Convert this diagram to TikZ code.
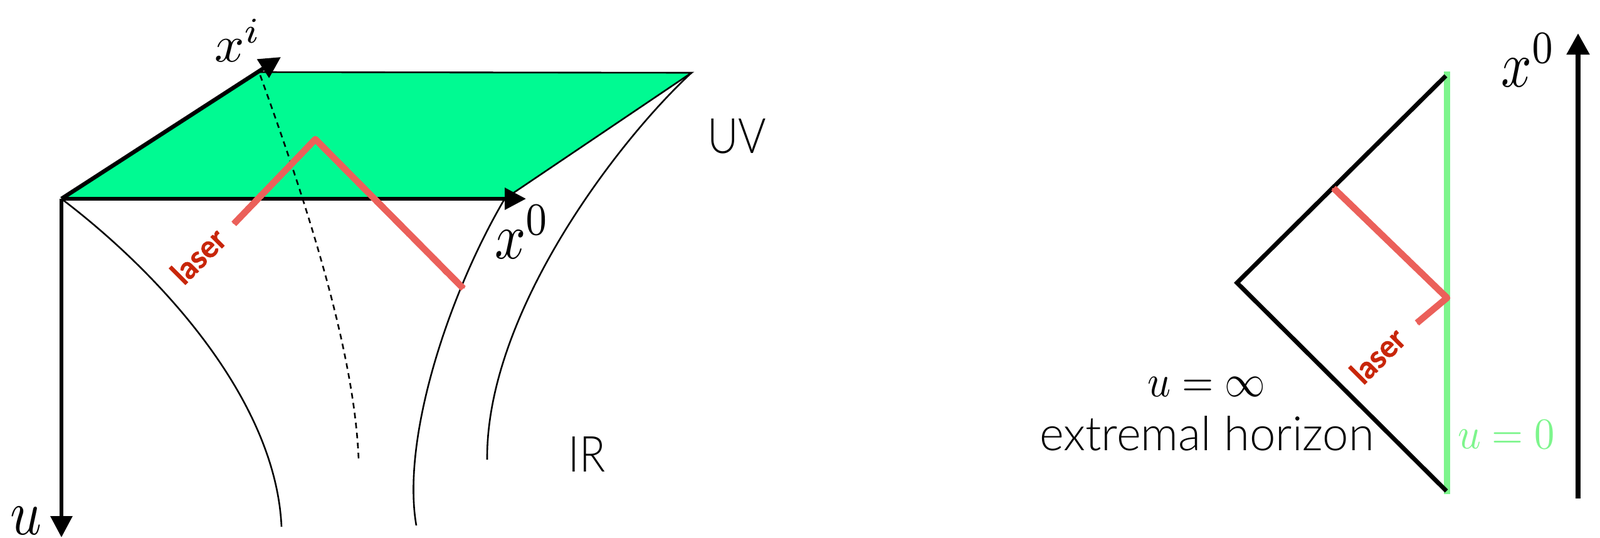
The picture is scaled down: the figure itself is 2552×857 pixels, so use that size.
\documentclass[tikz,border=0pt]{standalone}
\usepackage{fontspec}
\usepackage{graphicx}
\usetikzlibrary{arrows.meta,decorations.pathmorphing}
\newfontfamily\lightsans{Lato Light}
\newfontfamily\boldsans{Lato}[BoldFeatures={FakeBold=1.2}]
\definecolor{plane}{RGB}{0,250,146}
\definecolor{bdry}{RGB}{125,245,140}
\definecolor{beam}{RGB}{235,96,90}
\definecolor{beamtext}{RGB}{200,38,10}
\newlength{\pu}\setlength{\pu}{0.01cm}
\begin{document}
\begin{tikzpicture}[x=0.01cm,y=-0.01cm,
  axisarrow/.style={line width=6.5\pu,-{Triangle[length=9.67pt,width=9.67pt]}},
  thinline/.style={line width=2.6\pu},
  dashline/.style={line width=2.6\pu,dash pattern=on 9\pu off 7\pu},
  coneline/.style={line width=7\pu},
  beamline/.style={draw=beam,line width=10.5\pu,line join=round},
  beamrough/.style={draw=beam,line width=5\pu,line join=round,
    decorate,decoration={random steps,segment length=2.5\pu,amplitude=3\pu}},
  lbl/.style={inner sep=0pt,outer sep=0pt}]
\useasboundingbox (0,0) rectangle (2552,857);

% ---------- left diagram ----------
\coordinate (O) at (98,317);
\coordinate (P1) at (413,115);
\coordinate (P2) at (1103,116);
\coordinate (P3) at (805,317);
\coordinate (XiTip) at (448,91);
\coordinate (X0Tip) at (839,317);
\coordinate (UTip) at (98,857);

\fill[plane] (O) -- (P1) -- (P2) -- (P3) -- cycle;
\draw[thinline] (P1) -- (P2) -- (P3);

% curves
\coordinate (C1e) at (449,840);
\draw[thinline] (O) .. controls (260,440) and (440,640) .. (C1e);
\coordinate (C2s) at (805,317);
\coordinate (C2e) at (664,838);
\draw[thinline] (C2s) .. controls (715,470) and (640,700) .. (C2e);
\coordinate (C3e) at (777,733);
\draw[thinline] (P2) .. controls (985,225) and (775,500) .. (C3e);
\coordinate (Ds) at (415,120);
\coordinate (De) at (572,733);
\draw[dashline] (Ds) .. controls (480,300) and (565,550) .. (De);

% axes
\draw[axisarrow] (O) -- (XiTip);
\draw[axisarrow] (O) -- (X0Tip);
\draw[axisarrow] (O) -- (UTip);

% laser
\coordinate (L1) at (373,357);
\coordinate (L2) at (503,222);
\coordinate (L3) at (739,460);
\draw[beamline] (L1) -- (L2) -- (L3);
\draw[beamrough] (L1) -- (L2) -- (L3);

% labels
\node[lbl] (xi) at (380,64) {\resizebox{75\pu}{68\pu}{$x^i$}};
\node[lbl] (x0l) at (833,370) {\resizebox{88\pu}{85\pu}{$x^0$}};
\node[lbl] (ul) at (42,830) {\resizebox{50\pu}{44\pu}{$u$}};
\node[lbl] (uv) at (1175,217) {\resizebox{94\pu}{55\pu}{\lightsans UV}};
\node[lbl] (ir) at (936,724) {\resizebox{59\pu}{56\pu}{\lightsans IR}};
\node[lbl,rotate=45,text=beamtext] (laserL) at (316,408)
  {\resizebox{100\pu}{37\pu}{\boldsans\bfseries laser}};

% ---------- right diagram ----------
\coordinate (A) at (1973,451);
\coordinate (T) at (2306,121);
\coordinate (B) at (2307,783);
\coordinate (Gt) at (2308,114);
\coordinate (Gb) at (2308,788);
\draw[bdry,line width=10\pu] (Gt) -- (Gb);
\draw[coneline] (T) -- (A) -- (B);

\coordinate (R1) at (2127,300);
\coordinate (R2) at (2308,475);
\coordinate (R3) at (2260,515);
\draw[beamline] (R1) -- (R2) -- (R3);
\draw[beamrough] (R1) -- (R2) -- (R3);

\coordinate (Ab) at (2517,795);
\coordinate (At) at (2517,53);
\draw[line width=8\pu,-{Triangle[length=9.67pt,width=9.96pt]}] (Ab) -- (At);

\node[lbl] (x0r) at (2438,95.5) {\resizebox{87\pu}{85\pu}{$x^0$}};
\node[lbl] (uinf) at (1924,617) {\resizebox{188\pu}{31\pu}{$u=\infty$}};
\node[lbl] (eh) at (1925,691.5) {\resizebox{534\pu}{55\pu}{\lightsans extremal horizon}};
\node[lbl,text=bdry] (u0) at (2402.5,692.5) {\resizebox{155\pu}{45\pu}{$u=0$}};
\node[lbl,rotate=45,text=beamtext] (laserR) at (2197,567)
  {\resizebox{100\pu}{37\pu}{\boldsans\bfseries laser}};
\end{tikzpicture}
\end{document}
